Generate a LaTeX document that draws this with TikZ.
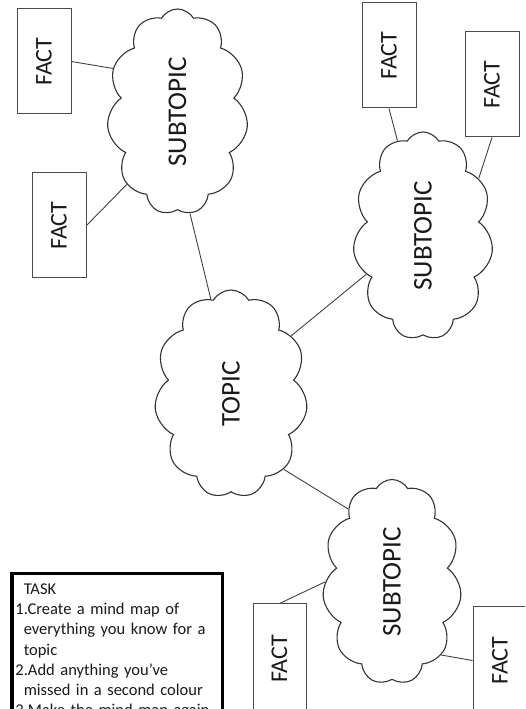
\documentclass[tikz,border=0pt]{standalone}
\usepackage{fontspec}
\setmainfont{Carlito}
\usetikzlibrary{shapes.symbols}

\newcommand{\sidetext}[1]{\rotatebox{90}{#1}}
\newcommand{\tasknum}[1]{\leavevmode\llap{#1}.}

\begin{document}
\begin{tikzpicture}[x=1pt, y=1pt,
  fact/.style={draw=black!70, line width=1pt, minimum width=54pt,
    minimum height=105pt, inner sep=0pt, text=black!90,
    font=\fontsize{24}{28}\selectfont},
  idea/.style={cloud, cloud puffs=11, cloud puff arc=120,
    cloud ignores aspect, draw=black!80, line width=1.1pt, inner sep=0pt,
    text=black!90, font=\fontsize{27}{32}\selectfont},
  link/.style={draw=black!75, line width=0.9pt},
  taskbox/.style={draw=black, line width=3.5pt, anchor=north west,
    inner xsep=11.7pt, inner ysep=9.7pt, text width=186.8pt, align=left,
    text=black!90, font=\fontsize{16.5}{20.3}\selectfont}]
  \useasboundingbox (0,0) rectangle (525,709);
  \clip (0,0) rectangle (525,709);

  % main topic and subtopics
  \node[idea, minimum width=153pt, minimum height=208pt] (topic) at (231,315) {\sidetext{TOPIC}};
  \node[idea, minimum width=141pt, minimum height=206pt] (sub1) at (177.5,597) {\sidetext{SUBTOPIC}};
  \node[idea, minimum width=140pt, minimum height=208pt] (sub2) at (423,473) {\sidetext{SUBTOPIC}};
  \node[idea, minimum width=139pt, minimum height=205pt] (sub3) at (392,127) {\sidetext{SUBTOPIC}};

  % facts
  \node[fact] (fact1) at (44,647.5) {\sidetext{FACT}};
  \node[fact] (fact2) at (59,483.5) {\sidetext{FACT}};
  \node[fact] (fact3) at (389,653.5) {\sidetext{FACT}};
  \node[fact] (fact4) at (492,624.5) {\sidetext{FACT}};
  \node[fact, minimum width=53pt, minimum height=110pt] (fact5) at (279.5,50) {\sidetext{FACT}};
  \node[fact, minimum height=107pt] (fact6) at (500,48.5) {\sidetext{FACT}};

  \draw[link] (fact1.east) -- (sub1.146);
  \draw[link] (fact2.east) -- (sub1.235);
  \draw[link] (sub1.277) -- (topic.102);
  \draw[link] (fact3.south) -- (sub2.105);
  \draw[link] (fact4.south) -- (sub2.46);
  \draw[link] (sub2.214) -- (topic.44);
  \draw[link] (topic.305) -- (sub3.121);
  \draw[link] (sub3.180) -- (fact5.north);
  \draw[link] (sub3.304) -- (fact6.west);

  % task list, cut off at the bottom
  \node[taskbox] (task) at (10.3,137) {TASK\\
    \tasknum{1}Create a mind map of\\
    everything you know for a\\
    topic\\
    \tasknum{2}Add anything you’ve\\
    missed in a second colour\\
    \tasknum{3}Make the mind map again};
\end{tikzpicture}
\end{document}
